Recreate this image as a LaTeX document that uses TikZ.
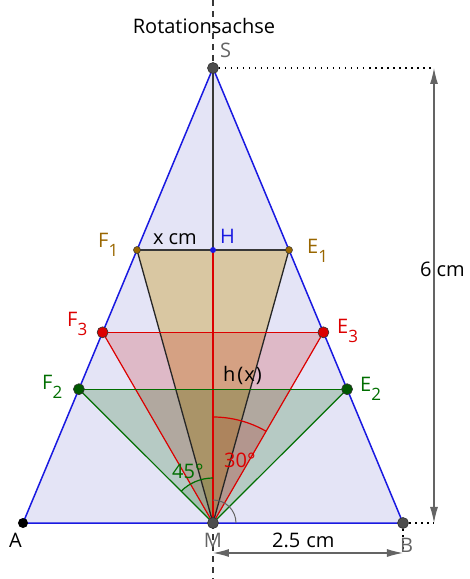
\documentclass[tikz,border=0pt]{standalone}
\usepackage{fontspec}
\setmainfont{Open Sans}
\usetikzlibrary{arrows.meta}
\definecolor{triblue}{RGB}{228,228,246}
\definecolor{edgeblue}{RGB}{25,25,225}
\definecolor{tanfill}{RGB}{198,145,0}
\definecolor{redline}{RGB}{220,0,0}
\definecolor{redfill}{RGB}{200,0,0}
\definecolor{greenline}{RGB}{0,110,0}
\definecolor{greenfill}{RGB}{0,100,0}
\definecolor{brownlab}{RGB}{153,102,0}
\definecolor{dimgray}{RGB}{100,100,100}
\definecolor{ptgray}{RGB}{77,77,77}
\definecolor{segdark}{RGB}{55,55,55}
\newcommand{\sbs}[1]{\raisebox{-9pt}{\fontsize{17}{17}\selectfont #1}}
\begin{document}
\begin{tikzpicture}[x=1pt,y=1pt,
  lab/.style={font=\fontsize{20}{22}\selectfont, inner sep=0pt, anchor=base west},
  pt/.style={circle, inner sep=0pt, minimum size=#1},
  dimline/.style={draw=dimgray, line width=1.2pt, {Latex[length=16pt,width=8pt]}-{Latex[length=16pt,width=8pt]}},
  dotline/.style={line width=1.5pt, dash pattern=on 1.5pt off 4.5pt},
  axisline/.style={draw=segdark, line width=1.2pt, dash pattern=on 6pt off 5pt}]
\useasboundingbox (-213,-56) rectangle (257,523);
% points
\coordinate (M) at (0,0);
\coordinate (S) at (0,455);
\coordinate (A) at (-190,0);
\coordinate (B) at (190,0);
\coordinate (H) at (0,273);
\coordinate (F1) at (-76,273);
\coordinate (E1) at (76,273);
\coordinate (F3) at (-110.4,190.7);
\coordinate (E3) at (110.4,190.7);
\coordinate (F2) at (-134.1,133.8);
\coordinate (E2) at (134.1,133.8);
\coordinate (DS) at (221,455);
\coordinate (DB) at (221,0);
\coordinate (DM) at (0,-30);
\coordinate (DBB) at (190,-30);
\coordinate (AT) at (0,523);
\coordinate (AB) at (0,-56);
% fills
\fill[triblue] (A) -- (B) -- (S) -- cycle;
\fill[tanfill, fill opacity=0.34] (F1) -- (E1) -- (M) -- cycle;
\fill[redfill, fill opacity=0.19] (F3) -- (E3) -- (M) -- cycle;
\fill[greenfill, fill opacity=0.2] (F2) -- (E2) -- (M) -- cycle;
\fill[redfill, fill opacity=0.1] (M) -- (0,106) arc[start angle=90, end angle=60, radius=106] -- cycle;
\fill[greenfill, fill opacity=0.1] (M) -- (0,45) arc[start angle=90, end angle=135, radius=45] -- cycle;
% axis
\draw[axisline] (AT) -- (S);
\draw[axisline] (M) -- (AB);
% triangle edges
\draw[edgeblue, line width=1.5pt] (A) -- (B) -- (S) -- cycle;
% inner segments
\draw[segdark, line width=1.3pt] (S) -- (H);
\draw[redline, line width=1.5pt] (H) -- (M);
\draw[segdark, line width=1.3pt] (F1) -- (E1);
\draw[black!85, line width=1.3pt] (F1) -- (M) -- (E1);
\draw[redline, line width=1.2pt] (F3) -- (E3);
\draw[redline, line width=1.2pt] (F3) -- (M) -- (E3);
\draw[greenline, line width=1.2pt] (F2) -- (E2);
\draw[greenline, line width=1.2pt] (F2) -- (M) -- (E2);
% angle arcs
\draw[redline, line width=1.2pt] (0,106) arc[start angle=90, end angle=60, radius=106];
\draw[greenline, line width=1.2pt] (0,45) arc[start angle=90, end angle=135, radius=45];
\draw[dimgray, line width=1pt] (23,0) arc[start angle=0, end angle=90, radius=23];
% dimension lines
\draw[dotline] (S) -- (DS);
\draw[dotline] (B) -- (DB);
\draw[dotline] (B) -- (DBB);
\draw[dimline] (DS) -- (DB);
\draw[dimline] (DM) -- (DBB);
% point markers
\node[pt=11pt, fill=ptgray, draw=black!80, line width=0.6pt] (pS) at (S) {};
\node[pt=11pt, fill=ptgray, draw=black!80, line width=0.6pt] (pM) at (M) {};
\node[pt=11pt, fill=ptgray, draw=black!80, line width=0.6pt] (pB) at (B) {};
\node[pt=10pt, fill=black] (pA) at (A) {};
\node[pt=7pt, fill=brownlab, draw=black!80, line width=0.5pt] (pF1) at (F1) {};
\node[pt=7pt, fill=brownlab, draw=black!80, line width=0.5pt] (pE1) at (E1) {};
\node[pt=6pt, fill=edgeblue] (pH) at (H) {};
\node[pt=11pt, fill=redline, draw=black!80, line width=0.6pt] (pF3) at (F3) {};
\node[pt=11pt, fill=redline, draw=black!80, line width=0.6pt] (pE3) at (E3) {};
\node[pt=11pt, fill=greenline!80!black, draw=black!80, line width=0.6pt] (pF2) at (F2) {};
\node[pt=11pt, fill=greenline!80!black, draw=black!80, line width=0.6pt] (pE2) at (E2) {};
% labels
\node[lab, anchor=base] (lRot) at (-9,489) {Rotationsachse};
\node[lab, text=dimgray] (lS) at (7,465) {S};
\node[lab, text=brownlab] (lF1) at (-115,275) {F\sbs{1}};
\node[lab] (lx) at (-60,278) {x\kern5pt cm};
\node[lab, text=edgeblue] (lH) at (7,279) {H};
\node[lab, text=brownlab] (lE1) at (94,269) {E\sbs{1}};
\node[lab] (l6) at (207,246) {6\kern5pt cm};
\node[lab, text=redline] (lF3) at (-146,196) {F\sbs{3}};
\node[lab, text=redline] (lE3) at (124,189) {E\sbs{3}};
\node[lab] (lh) at (10,141) {h\kern2pt(\kern1pt x\kern1pt)};
\node[lab, text=greenline] (lF2) at (-171,133) {F\sbs{2}};
\node[lab, text=greenline] (lE2) at (147,131) {E\sbs{2}};
\node[lab, text=greenline] (l45) at (-41,45) {45°};
\node[lab, text=redline] (l30) at (11,55) {30°};
\node[lab] (lA) at (-204,-24) {A};
\node[lab, anchor=base, text=dimgray] (lM) at (0,-24) {M};
\node[lab, text=dimgray] (lB) at (187,-29) {B};
\node[lab] (l25) at (59,-24) {2.5\kern6pt cm};
\end{tikzpicture}
\end{document}
